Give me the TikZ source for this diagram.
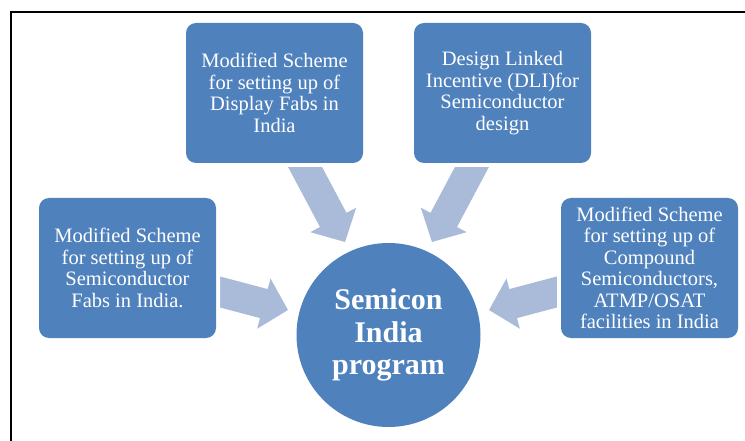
\documentclass[tikz,border=0pt]{standalone}
\usepackage{fontspec}
\setmainfont{Liberation Serif}
\usetikzlibrary{calc}

\definecolor{boxblue}{RGB}{79,129,189}
\definecolor{arrowblue}{RGB}{169,187,217}

\tikzset{
  schemebox/.style={
    rounded corners=10pt, fill=boxblue, text=white,
    preaction={draw=white, line width=8pt},
    minimum width=177pt, minimum height=140pt,
    inner sep=0pt, align=center,
    font=\fontsize{20.5}{21.5}\selectfont},
  hub/.style={
    circle, fill=boxblue, text=white, minimum size=184pt,
    inner sep=0pt, align=center,
    font=\bfseries\fontsize{30}{32.5}\selectfont},
  frameline/.style={line width=2pt, black},
  arrowbody/.style={fill=arrowblue}
}

% block arrow from tail #1 to tip #2: shaft half-width 15, head half-width 26, head length 25
\newcommand\blockarrow[2]{%
  \coordinate (#1-head) at ($(#2)!25pt!(#1)$);
  \fill[arrowbody]
    ($(#1)!15pt!90:(#2)$) --
    ($(#1-head)!15pt!90:(#2)$) --
    ($(#1-head)!26pt!90:(#2)$) --
    (#2) --
    ($(#1-head)!26pt!-90:(#2)$) --
    ($(#1-head)!15pt!-90:(#2)$) --
    ($(#1)!15pt!-90:(#2)$) -- cycle;}

\begin{document}
\begin{tikzpicture}[x=1pt, y=-1pt]
  \useasboundingbox (0,0) rectangle (745,441);

  % frame along the left and top edges
  \draw[frameline] (11,441) -- (11,12) -- (745,12);

  % arrow tails and tips
  \coordinate (tlA) at (296,150);  \coordinate (tlB) at (345,242);
  \coordinate (trA) at (481,150);  \coordinate (trB) at (432,242);
  \coordinate (lA)  at (205,288);  \coordinate (lB)  at (288,310);
  \coordinate (rA)  at (572,288);  \coordinate (rB)  at (489,310);

  \blockarrow{tlA}{tlB}
  \blockarrow{trA}{trB}
  \blockarrow{lA}{lB}
  \blockarrow{rA}{rB}

  % scheme boxes
  \node[schemebox] (display) at (274.5,93)
    {Modified Scheme\\for setting up of\\Display Fabs in\\India};
  \node[schemebox] (dli) at (502.5,93)
    {Design Linked\\Incentive (DLI)for\\Semiconductor\\design};
  \node[schemebox] (fabs) at (127.5,268)
    {Modified Scheme\\for setting up of\\Semiconductor\\Fabs in India.};
  \node[schemebox] (compound) at (649.5,268)
    {Modified Scheme\\for setting up of\\Compound\\Semiconductors,\\ATMP/OSAT\\facilities in India};

  % central programme
  \node[hub] (semicon) at (388.5,335) {Semicon\\India\\program};
\end{tikzpicture}
\end{document}
